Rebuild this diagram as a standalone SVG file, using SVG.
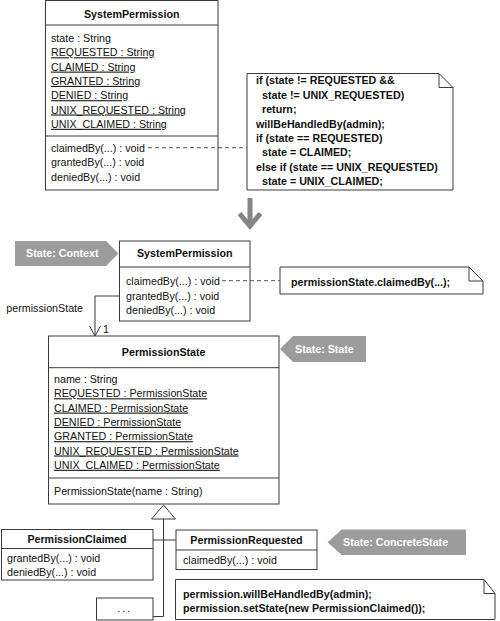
<svg xmlns="http://www.w3.org/2000/svg" width="500" height="621" viewBox="0 0 500 621">
<defs>
<style>
text{font-family:"Liberation Sans",Arial,sans-serif;font-size:10.7px;fill:#111}
.b{font-weight:bold}
.t{font-weight:bold;text-anchor:middle}
.u{text-decoration:underline}
.w{font-weight:bold;fill:#fff}
.box{fill:#fff;stroke:#3a3a3a;stroke-width:1}
.ln{fill:none;stroke:#3a3a3a;stroke-width:1}
.dash{fill:none;stroke:#555;stroke-width:1;stroke-dasharray:4,3}
.tag{fill:#9c9c9c}
</style>
</defs>
<rect width="500" height="621" fill="#fff"/>

<g id="sp-old">
<rect class="box" x="45.5" y="0.5" width="172.5" height="189.5"/>
<line class="ln" x1="45.5" y1="25" x2="218" y2="25"/>
<line class="ln" x1="45.5" y1="136" x2="218" y2="136"/>
<text class="t" x="131.7" y="18">SystemPermission</text>
<text x="51" y="42">state : String</text>
<text class="u" x="51" y="56.3">REQUESTED : String</text>
<text class="u" x="51" y="70.6">CLAIMED : String</text>
<text class="u" x="51" y="84.9">GRANTED : String</text>
<text class="u" x="51" y="99.2">DENIED : String</text>
<text class="u" x="51" y="113.5">UNIX_REQUESTED : String</text>
<text class="u" x="51" y="127.8">UNIX_CLAIMED : String</text>
<text x="51" y="151.5">claimedBy(...) : void</text>
<text x="51" y="166">grantedBy(...) : void</text>
<text x="51" y="180.5">deniedBy(...) : void</text>
</g>

<g id="note-old">
<path class="box" d="M247,73.5 H439 L453,87.5 V190 H247 Z"/>
<path class="ln" d="M439,73.5 V87.5 H453"/>
<text class="b" x="256" y="84.3">if (state != REQUESTED &amp;&amp;</text>
<text class="b" x="262" y="98.7">state != UNIX_REQUESTED)</text>
<text class="b" x="262" y="113.1">return;</text>
<text class="b" x="256" y="127.5">willBeHandledBy(admin);</text>
<text class="b" x="256" y="141.9">if (state == REQUESTED)</text>
<text class="b" x="262" y="156.3">state = CLAIMED;</text>
<text class="b" x="256" y="170.7">else if (state == UNIX_REQUESTED)</text>
<text class="b" x="262" y="185.1">state = UNIX_CLAIMED;</text>
</g>

<g id="tag-context">
<polygon class="tag" points="15,241 106,241 118.5,253.5 106,266 15,266"/>
<text class="w" x="26" y="257.3">State: Context</text>
</g>

<g id="sp-new">
<rect class="box" x="119.5" y="241" width="130.5" height="80"/>
<line class="ln" x1="119.5" y1="267" x2="250" y2="267"/>
<text class="t" x="184.7" y="257.3">SystemPermission</text>
<text x="126" y="284.5">claimedBy(...) : void</text>
<text x="126" y="300">grantedBy(...) : void</text>
<text x="126" y="314.3">deniedBy(...) : void</text>
</g>

<g id="note-new">
<path class="box" d="M280,267 H469 L483,281 V294 H280 Z"/>
<path class="ln" d="M469,267 V281 H483"/>
<text class="b" x="291" y="285.5">permissionState.claimedBy(...);</text>
</g>

<g id="permission-state">
<rect class="box" x="48.5" y="336" width="230.5" height="168"/>
<line class="ln" x1="48.5" y1="367.7" x2="279" y2="367.7"/>
<line class="ln" x1="48.5" y1="478" x2="279" y2="478"/>
<text class="t" x="163.7" y="356">PermissionState</text>
<text x="54" y="383">name : String</text>
<text class="u" x="54" y="397.3">REQUESTED : PermissionState</text>
<text class="u" x="54" y="411.6">CLAIMED : PermissionState</text>
<text class="u" x="54" y="425.9">DENIED : PermissionState</text>
<text class="u" x="54" y="440.2">GRANTED : PermissionState</text>
<text class="u" x="54" y="454.5">UNIX_REQUESTED : PermissionState</text>
<text class="u" x="54" y="468.8">UNIX_CLAIMED : PermissionState</text>
<text x="54" y="494.5">PermissionState(name : String)</text>
</g>

<g id="tag-state">
<polygon class="tag" points="280,349 293,336 366,336 366,362 293,362"/>
<text class="w" x="295" y="353">State: State</text>
</g>

<g id="permission-claimed">
<rect class="box" x="1.5" y="529.5" width="151.5" height="50.5"/>
<line class="ln" x1="1.5" y1="548.5" x2="153" y2="548.5"/>
<text class="t" x="77" y="543">PermissionClaimed</text>
<text x="7" y="561.5">grantedBy(...) : void</text>
<text x="7" y="575.5">deniedBy(...) : void</text>
</g>

<g id="permission-requested">
<rect class="box" x="176" y="530" width="141" height="39.5"/>
<line class="ln" x1="176" y1="550" x2="317" y2="550"/>
<text class="t" x="246.5" y="543.5">PermissionRequested</text>
<text x="183" y="564">claimedBy(...) : void</text>
</g>

<g id="tag-concrete">
<polygon class="tag" points="327.5,542.2 341.7,529.5 466,529.5 466,555 341.7,555"/>
<text class="w" x="343" y="546">State: ConcreteState</text>
</g>

<g id="note-concrete">
<path class="box" d="M175.5,579.5 H484 L495,593.5 V619.5 H175.5 Z"/>
<path class="ln" d="M484,579.5 V593.5 H495"/>
<text class="b" x="183" y="598">permission.willBeHandledBy(admin);</text>
<text class="b" x="183" y="611.5">permission.setState(new PermissionClaimed());</text>
</g>

<g id="more">
<rect class="box" x="96.5" y="598" width="56.5" height="22"/>
<text x="124.7" y="612" text-anchor="middle" letter-spacing="2">...</text>
</g>

<g id="connectors">
<line class="dash" x1="148" y1="147.7" x2="247" y2="147.7"/>
<line class="dash" x1="222" y1="280.7" x2="280" y2="280.7"/>
<path class="ln" d="M119.5,296 H95 V336"/>
<path class="ln" d="M89.5,326 L95,336 L100.5,326"/>
<text x="103" y="333">1</text>
<text x="83" y="312" text-anchor="end">permissionState</text>
<path class="ln" d="M163.5,519 V616.5 H153"/>
<line class="ln" x1="153" y1="540" x2="176" y2="540"/>
<path d="M163.5,505 L151.5,519 H175.5 Z" fill="#fff" stroke="#3a3a3a"/>
<g id="transform-arrow" fill="none" stroke="#858585" stroke-width="5">
<line x1="250" y1="198" x2="250" y2="225"/>
<polyline points="239.5,213.5 250,226 260.5,213.5"/>
</g>
</g>
</svg>
